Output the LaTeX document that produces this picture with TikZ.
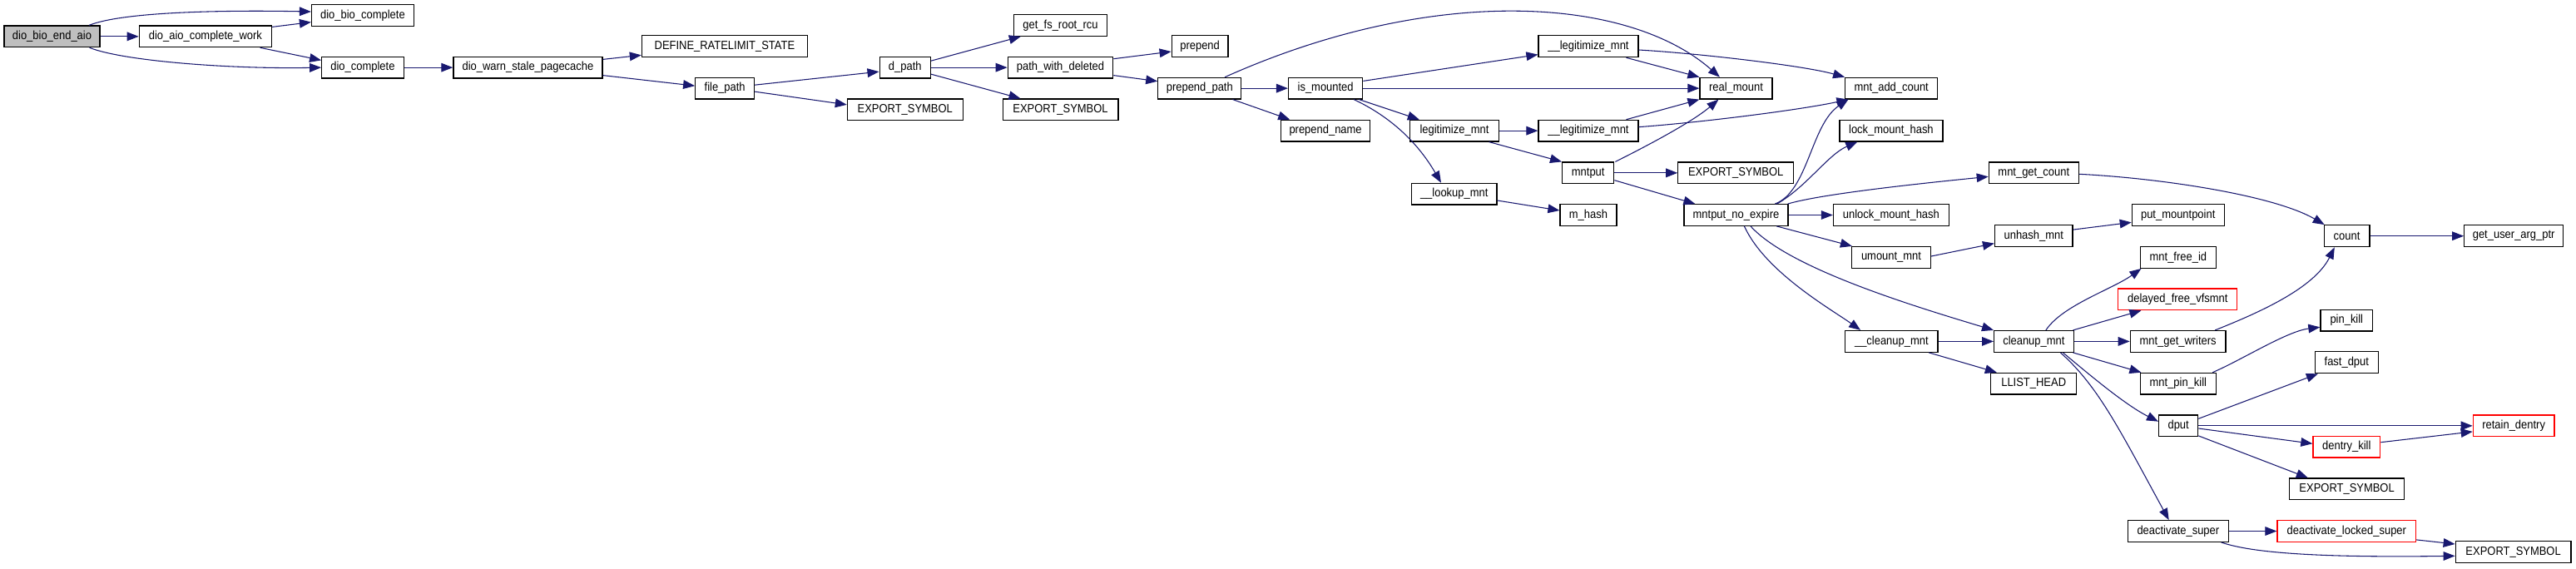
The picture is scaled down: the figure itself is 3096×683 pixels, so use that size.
\documentclass[tikz,border=0pt]{standalone}
\usepackage{fontspec}
\newfontfamily\nodefont[FakeStretch=0.9]{Liberation Sans}
\usetikzlibrary{arrows.meta}
\definecolor{edgecol}{HTML}{191970}
\definecolor{rootfill}{HTML}{BFBFBF}
\tikzset{
  box/.style={draw=black, line width=0.9pt, fill=white, inner sep=0pt, font=\nodefont\fontsize{10.8pt}{12pt}\selectfont},
  redbox/.style={box, draw=red},
  rootbox/.style={box, fill=rootfill},
  edge/.style={draw=edgecol, line width=0.8pt, -{Triangle[length=10.5pt,width=8pt]}}
}
\newcommand\mkbox[7][box]{%
  \pgfmathsetmacro\bw{(#5-#3)*0.75}\pgfmathsetmacro\bh{(#6-#4)*0.75}%
  \pgfmathsetmacro\bx{(#3+#5)/2}\pgfmathsetmacro\by{(#4+#6)/2}%
  \node[#1, minimum width=\bw pt, minimum height=\bh pt, anchor=center] (#2) at (\bx,\by) {#7};}
\begin{document}
\begin{tikzpicture}[x=0.75pt,y=-0.75pt]
\useasboundingbox (0,0) rectangle (3096,683);
% nodes
\mkbox[rootbox]{root}{5}{31}{120}{56.7}{dio\_bio\_end\_aio}
\mkbox{dacw}{167.3}{31}{326.5}{56.7}{dio\_aio\_complete\_work}
\mkbox{dbc}{374.5}{5.7}{497.4}{31.3}{dio\_bio\_complete}
\mkbox{dc}{386.7}{68.3}{485.2}{94}{dio\_complete}
\mkbox{dwsp}{544.9}{68.3}{724}{94}{dio\_warn\_stale\_pagecache}
\mkbox{drs}{771.4}{42.7}{970.4}{68.7}{DEFINE\_RATELIMIT\_STATE}
\mkbox{fp}{835.7}{93.3}{906.6}{119}{file\_path}
\mkbox{es1}{1018.4}{119}{1157.1}{144.7}{EXPORT\_SYMBOL}
\mkbox{dp}{1057.1}{68.3}{1118.4}{94}{d\_path}
\mkbox{gfrr}{1218.4}{17.3}{1330.6}{43.3}{get\_fs\_root\_rcu}
\mkbox{pwd}{1211.2}{68.3}{1337.8}{94}{path\_with\_deleted}
\mkbox{es2}{1205.1}{119}{1343.9}{144.7}{EXPORT\_SYMBOL}
\mkbox{prep}{1408.2}{42.7}{1476}{68.7}{prepend}
\mkbox{pp}{1391.8}{93.3}{1491.8}{119}{prepend\_path}
\mkbox{im}{1548.5}{93.3}{1637.8}{119}{is\_mounted}
\mkbox{pn}{1539.8}{144.3}{1646.4}{170}{prepend\_name}
\mkbox{lm1}{1849}{42.7}{1968.9}{68.7}{\_\_legitimize\_mnt}
\mkbox{rm}{2043}{93.3}{2130}{119}{real\_mount}
\mkbox{mac}{2217.7}{93.3}{2328.6}{119}{mnt\_add\_count}
\mkbox{lgm}{1694.4}{144.3}{1801.5}{170}{legitimize\_mnt}
\mkbox{lm2}{1849}{144.3}{1968.9}{170}{\_\_legitimize\_mnt}
\mkbox{mp}{1877.6}{195}{1939.8}{220.7}{mntput}
\mkbox{es3}{2016.8}{195}{2155.6}{220.7}{EXPORT\_SYMBOL}
\mkbox{lkm}{1696.4}{220.3}{1799}{246}{\_\_lookup\_mnt}
\mkbox{mh}{1875}{245.7}{1942.9}{271.3}{m\_hash}
\mkbox{mne}{2024}{245.7}{2149}{271.3}{mntput\_no\_expire}
\mkbox{lmh}{2210.9}{144.3}{2334.9}{170}{lock\_mount\_hash}
\mkbox{mgc}{2390.3}{195}{2498.3}{220.7}{mnt\_get\_count}
\mkbox{umh}{2203.4}{245.7}{2342.3}{271.3}{unlock\_mount\_hash}
\mkbox{pmp}{2562.3}{245.7}{2673.1}{271.3}{put\_mountpoint}
\mkbox{uhm}{2397.5}{270.7}{2491}{296.7}{unhash\_mnt}
\mkbox{cnt}{2793.1}{270.7}{2848}{296.7}{count}
\mkbox{guap}{2961.7}{270.7}{3080.6}{296.7}{get\_user\_arg\_ptr}
\mkbox{um}{2225.5}{296.5}{2320.5}{322.3}{umount\_mnt}
\mkbox{mfi}{2572.3}{296.5}{2663.4}{322.3}{mnt\_free\_id}
\mkbox[redbox]{dfv}{2545.8}{347}{2688.8}{372.7}{delayed\_free\_vfsmnt}
\mkbox{pk}{2788.9}{372.3}{2851.7}{398}{pin\_kill}
\mkbox{ucm}{2217.7}{397.5}{2329}{423.3}{\_\_cleanup\_mnt}
\mkbox{cm}{2396.6}{397.5}{2492.1}{423.3}{cleanup\_mnt}
\mkbox{mgw}{2560.3}{397.5}{2674.9}{423.3}{mnt\_get\_writers}
\mkbox{fd}{2782.3}{422.7}{2858.3}{448.7}{fast\_dput}
\mkbox{llh}{2392.7}{448.3}{2495.7}{474}{LLIST\_HEAD}
\mkbox{mpk}{2572.3}{448.3}{2663.4}{474}{mnt\_pin\_kill}
\mkbox{dput}{2594.6}{499}{2641.7}{524.7}{dput}
\mkbox[redbox]{rd}{2972.3}{499}{3070}{524.7}{retain\_dentry}
\mkbox[redbox]{dk}{2779.9}{524.3}{2860.7}{550}{dentry\_kill}
\mkbox{es4}{2751.5}{575}{2889.7}{600.7}{EXPORT\_SYMBOL}
\mkbox{ds}{2557.2}{625.7}{2678.5}{651.3}{deactivate\_super}
\mkbox[redbox]{dls}{2737}{625.7}{2903.6}{651.3}{deactivate\_locked\_super}
\mkbox{es5}{2951.2}{650.7}{3090}{676.7}{EXPORT\_SYMBOL}
% edges
\draw[edge] ([shift={(44.5,0)}]root.north) .. controls +(40,-16) and +(-110,-2) .. ([shift={(0,-4.5)}]dbc.west);
\draw[edge] (root.east) -- (dacw.west);
\draw[edge] ([shift={(-13,0)}]root.south east) .. controls +(40,16) and +(-110,2) .. (dc.west);
\draw[edge] ([shift={(0,2)}]dacw.north east) -- ([shift={(0,-5.3)}]dbc.south west);
\draw[edge] ([shift={(-14.5,0)}]dacw.south east) -- ([shift={(0,4.7)}]dc.north west);
\draw[edge] (dc.east) -- (dwsp.west);
\draw[edge] ([shift={(0,3.7)}]dwsp.north east) -- ([shift={(0,-3)}]drs.south west);
\draw[edge] ([shift={(0,-4)}]dwsp.south east) -- ([shift={(0,-3)}]fp.west);
\draw[edge] ([shift={(0,-4)}]fp.east) -- ([shift={(0,5)}]dp.west);
\draw[edge] ([shift={(0,4)}]fp.east) -- ([shift={(0,-6)}]es1.west);
\draw[edge] ([shift={(0,-8)}]dp.east) -- ([shift={(9,0)}]gfrr.south west);
\draw[edge] (dp.east) -- (pwd.west);
\draw[edge] ([shift={(0,8)}]dp.east) -- ([shift={(22,0)}]es2.north west);
\draw[edge] ([shift={(0,3)}]pwd.north east) -- ([shift={(0,6.3)}]prep.west);
\draw[edge] ([shift={(0,-4)}]pwd.south east) -- ([shift={(0,5)}]pp.north west);
\draw[edge] ([shift={(-20.3,0)}]pp.north east) .. controls +(250,-112) and +(-110,-97) .. ([shift={(24.5,0)}]rm.north west);
\draw[edge] (pp.east) -- (im.west);
\draw[edge] ([shift={(-10.8,0)}]pp.south east) -- ([shift={(11,0)}]pn.north west);
\draw[edge] ([shift={(0,4.7)}]im.north east) -- ([shift={(0,-3.7)}]lm1.south west);
\draw[edge] (im.east) -- (rm.west);
\draw[edge] ([shift={(-5,0)}]im.south east) -- ([shift={(12,0)}]lgm.north west);
\draw[edge] ([shift={(-11.3,0)}]im.south east) .. controls +(30,14) and +(-35,-60) .. ([shift={(-15.7,0)}]lkm.north);
\draw[edge] ([shift={(-15,0)}]lm1.south east) -- (rm.north west);
\draw[edge] ([shift={(0,4.3)}]lm1.east) .. controls +(70,4) and +(-50,-14) .. (mac.north west);
\draw[edge] (lgm.east) -- (lm2.west);
\draw[edge] ([shift={(-12.5,0)}]lgm.south east) -- (mp.north west);
\draw[edge] ([shift={(-15,0)}]lm2.north east) -- (rm.south west);
\draw[edge] ([shift={(0,-4.5)}]lm2.east) .. controls +(70,-5) and +(-60,13) .. ([shift={(4.3,0)}]mac.south west);
\draw[edge] ([shift={(1,0)}]mp.north east) .. controls +(20,-10) and +(-35,30) .. ([shift={(23,0)}]rm.south west);
\draw[edge] (mp.east) -- (es3.west);
\draw[edge] ([shift={(0,8.85)}]mp.east) -- ([shift={(14,0)}]mne.north west);
\draw[edge] ([shift={(0,7.85)}]lkm.east) -- ([shift={(0,-5.5)}]mh.west);
\draw[edge] ([shift={(-16.4,0)}]mne.north east) .. controls +(40,-15) and +(-45,30) .. ([shift={(4.3,0)}]mac.south west);
\draw[edge] ([shift={(-14,0)}]mne.north east) .. controls +(35,-20) and +(-35,15) .. ([shift={(22,0)}]lmh.south west);
\draw[edge] ([shift={(-1,0)}]mne.north east) .. controls +(40,-12) and +(-80,8) .. ([shift={(0,4.5)}]mgc.west);
\draw[edge] (mne.east) -- (umh.west);
\draw[edge] ([shift={(-14.3,0)}]mne.south east) -- ([shift={(1,0)}]um.north west);
\draw[edge] ([shift={(9.9,0)}]mne.south) .. controls +(25,55) and +(-35,-25) .. ([shift={(19,0)}]ucm.north west);
\draw[edge] ([shift={(17.5,0)}]mne.south) .. controls +(45,50) and +(-100,-30) .. (cm.north west);
\draw[edge] ([shift={(0,-1.4)}]um.east) -- ([shift={(0,-4.7)}]uhm.south west);
\draw[edge] ([shift={(0,6)}]uhm.north east) -- ([shift={(0,-4.6)}]pmp.south west);
\draw[edge] ([shift={(0,1.45)}]mgc.east) .. controls +(100,5) and +(-60,-35) .. ([shift={(1.2,0)}]cnt.north west);
\draw[edge] (cnt.east) -- (guap.west);
\draw[edge] (ucm.east) -- (cm.west);
\draw[edge] ([shift={(-11.3,0)}]ucm.south east) -- ([shift={(7.7,0)}]llh.north west);
\draw[edge] ([shift={(14.5,0)}]cm.north) .. controls +(20,-30) and +(-35,25) .. ([shift={(1.7,0)}]mfi.south west);
\draw[edge] ([shift={(-1.2,0)}]cm.north east) -- ([shift={(28.2,0)}]dfv.south west);
\draw[edge] (cm.east) -- (mgw.west);
\draw[edge] ([shift={(-1.2,0)}]cm.south east) -- ([shift={(1.7,0)}]mpk.north west);
\draw[edge] ([shift={(-13.3,0)}]cm.south east) .. controls +(30,25) and +(-40,-20) .. ([shift={(0,-5.15)}]dput.west);
\draw[edge] ([shift={(-16.3,0)}]cm.south east) .. controls +(45,40) and +(-60,-110) .. ([shift={(-11.15,0)}]ds.north);
\draw[edge] ([shift={(-13.3,0)}]mgw.north east) .. controls +(50,-20) and +(-25,50) .. ([shift={(13.3,0)}]cnt.south west);
\draw[edge] ([shift={(-4.8,0)}]mpk.north east) .. controls +(35,-15) and +(-40,5) .. ([shift={(0,8.15)}]pk.west);
\draw[edge] ([shift={(0,-8.55)}]dput.east) -- ([shift={(4.2,0)}]fd.south west);
\draw[edge] (dput.east) -- (rd.west);
\draw[edge] ([shift={(0,3.15)}]dput.east) -- ([shift={(0,-3.85)}]dk.west);
\draw[edge] ([shift={(0,-1.4)}]dput.south east) -- ([shift={(22.9,0)}]es4.north west);
\draw[edge] ([shift={(0,-5.45)}]dk.east) -- ([shift={(0,-6.4)}]rd.south west);
\draw[edge] (ds.east) -- (dls.west);
\draw[edge] ([shift={(-9.6,0)}]ds.south east) .. controls +(40,14) and +(-150,2) .. ([shift={(0,4.6)}]es5.west);
\draw[edge] ([shift={(0,-3)}]dls.south east) -- ([shift={(0,-9.7)}]es5.west);
\end{tikzpicture}
\end{document}
